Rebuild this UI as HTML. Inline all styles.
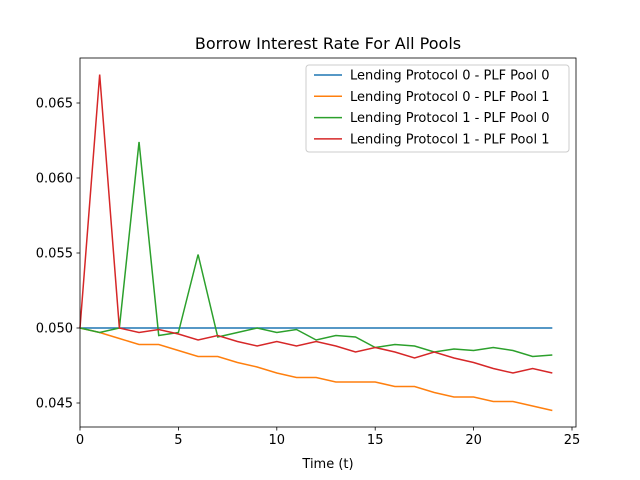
<!DOCTYPE html>
<html><head><meta charset="utf-8"><style>
body{margin:0;background:#fff}
svg{display:block;font-family:"DejaVu Sans","Liberation Sans",sans-serif}
</style></head><body>
<svg id="chart" width="640" height="480"></svg>
<script>
const times=[0,1,2,3,4,5,6,7,8,9,10,11,12,13,14,15,16,17,18,19,20,21,22,23,24];
const lp0pool0=[.05,.05,.05,.05,.05,.05,.05,.05,.05,.05,.05,.05,.05,.05,.05,.05,.05,.05,.05,.05,.05,.05,.05,.05,.05];
const lp0pool1=[.05,.0497,.0493,.0489,.0489,.0485,.0481,.0481,.0477,.0474,.0470,.0467,.0467,.0464,.0464,.0464,.0461,.0461,.0457,.0454,.0454,.0451,.0451,.0448,.0445];
const lp1pool0=[.05,.0497,.05,.0624,.0495,.0497,.0549,.0494,.0497,.05,.0497,.0499,.0492,.0495,.0494,.0487,.0489,.0488,.0484,.0486,.0485,.0487,.0485,.0481,.0482];
const lp1pool1=[.05,.0669,.05,.0497,.0499,.0496,.0492,.0495,.0491,.0488,.0491,.0488,.0491,.0488,.0484,.0487,.0484,.0480,.0484,.0480,.0477,.0473,.0470,.0473,.0470];
const seriesNames=["Lending Protocol 0 - PLF Pool 0","Lending Protocol 0 - PLF Pool 1","Lending Protocol 1 - PLF Pool 0","Lending Protocol 1 - PLF Pool 1"];
const xTicks=[0,5,10,15,20,25];
const yTicks=[0.045,0.050,0.055,0.060,0.065];
const yTickLabels=["0.045","0.050","0.055","0.060","0.065"];

const L=80,R=576,T=58,B=427;
const xs=t=>80+t*19.68;
const ys=v=>328-(v-0.05)*15000;
const svg=document.getElementById('chart');
const NS='http://www.w3.org/2000/svg';
function mk(tag,attrs,text){const e=document.createElementNS(NS,tag);for(const k in attrs)e.setAttribute(k,attrs[k]);if(text!==undefined)e.textContent=text;svg.appendChild(e);return e;}

const colors=['#1f77b4','#ff7f0e','#2ca02c','#d62728'];
const all=[lp0pool0,lp0pool1,lp1pool0,lp1pool1];
const lineNames=['line-lp0-pool0','line-lp0-pool1','line-lp1-pool0','line-lp1-pool1'];
all.forEach((s,i)=>{
  const p=mk('polyline',{points:s.map((v,j)=>xs(times[j])+','+ys(v)).join(' '),fill:'none',stroke:colors[i],'stroke-width':1.5});
  
  
});
const frame=mk('rect',{x:L,y:T,width:R-L,height:B-T,fill:'none',stroke:'#000','stroke-width':0.8});



xTicks.forEach(t=>{
  const x=xs(t);
  const tk=mk('line',{x1:x,x2:x,y1:B,y2:B+3.5,stroke:'#000','stroke-width':0.8});
  
  
  const lb=mk('text',{x:x,y:B+17,'font-size':13,'text-anchor':'middle'},String(t));
  
  
});
yTicks.forEach((v,i)=>{
  const y=ys(v);
  const tk=mk('line',{x1:L-3.5,x2:L,y1:y,y2:y,stroke:'#000','stroke-width':0.8});
  
  
  const lb=mk('text',{x:L-7,y:y+4.5,'font-size':13,'text-anchor':'end'},yTickLabels[i]);
  
  
});
const xt=mk('text',{x:328,y:468,'font-size':13,'text-anchor':'middle'},'Time (t)');


const title=mk('text',{x:328,y:49,'font-size':16,'text-anchor':'middle'},'Borrow Interest Rate For All Pools');



const lg=mk('rect',{x:306,y:65,width:263,height:87,rx:3,fill:'#fff','fill-opacity':0.8,stroke:'#ccc','stroke-width':1});


seriesNames.forEach((n,i)=>{
  const y=75+i*21.3;
  const ln=mk('line',{x1:314,x2:342,y1:y,y2:y,stroke:colors[i],'stroke-width':1.5});
  
  
  const tx=mk('text',{x:350,y:y+4.5,'font-size':13},n);
  
  
});
</script>
</body></html>
